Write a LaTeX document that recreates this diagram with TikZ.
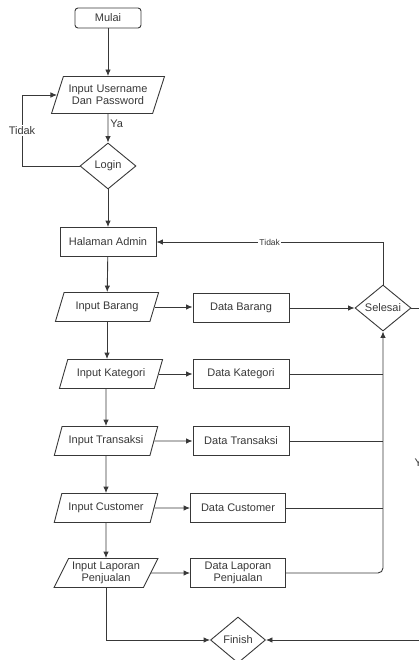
\documentclass[tikz,border=0pt]{standalone}
\usepackage{fontspec}
\setmainfont{Liberation Sans}
\usetikzlibrary{arrows,arrows.meta,shapes.geometric,positioning}

\begin{document}
\begin{tikzpicture}[x=1pt,y=-1pt, color=black!78, line width=0.9pt,
	>={Latex[length=6.5pt,width=5.5pt]},
	every node/.style={font=\fontsize{11}{12.5}\selectfont},
	proses/.style={draw, rectangle, minimum width=96pt, minimum height=29pt, inner sep=1pt, align=center},
	masukan/.style={draw, trapezium, trapezium left angle=61, trapezium right angle=119, trapezium stretches=true, minimum width=104pt, minimum height=29pt, inner sep=1pt, align=center},
	pilihan/.style={draw, diamond, aspect=1.2, inner sep=0pt, minimum width=56pt, minimum height=46pt}]
	% Keep the cut-off edges of the page
	\clip (0,0) rectangle (419,660);
	\useasboundingbox (0,0) rectangle (419,660);
	% Draw nodes
	\node[draw, rectangle, rounded corners=3pt, minimum width=66pt, minimum height=20pt] (mulai) at (108,18) {Mulai};
	\node[masukan, minimum width=113pt, minimum height=37pt, text width=84pt, inner sep=0pt] (login input) at (108,95) {Input Username\\Dan Password};
	\node[pilihan] (login) at (108,166) {Login};
	\node[proses] (admin) at (108,242) {Halaman Admin};
	\node[masukan] (in barang) at (107,307) {Input Barang};
	\node[masukan] (in kategori) at (111,374) {Input Kategori};
	\node[masukan] (in transaksi) at (106,441) {Input Transaksi};
	\node[masukan] (in customer) at (106,508) {Input Customer};
	\node[masukan] (in laporan) at (106,573) {Input Laporan\\Penjualan};
	\node[proses] (data barang) at (241,308) {Data Barang};
	\node[proses] (data kategori) at (241,374) {Data Kategori};
	\node[proses] (data transaksi) at (241,441) {Data Transaksi};
	\node[proses, minimum width=95pt] (data customer) at (238,508) {Data Customer};
	\node[proses, minimum width=95pt] (data laporan) at (238,573) {Data Laporan\\Penjualan};
	\node[pilihan] (selesai) at (383,308) {Selesai};
	\node[pilihan, minimum width=55pt] (finish) at (238,640) {Finish};
	\coordinate (keluar) at (421,308);
	% Draw arrows down the left
	\draw[->] (mulai) -- (login input);
	\draw[->] (login input) -- node[right, pos=0.35, inner sep=2pt] {Ya} (login);
	\draw[->] (login.west) -- (22,166) |- node[pos=0.25, fill=white, inner sep=1pt] {Tidak} (login input.west);
	\draw[->] (login) -- (admin);
	\draw[->] (admin) -- (in barang);
	\draw[->] (in barang.south) -- (in barang.south |- in kategori.north);
	\draw[->] (in kategori.south -| in transaksi) -- (in transaksi);
	\draw[->] (in transaksi) -- (in customer);
	\draw[->] (in customer) -- (in laporan);
	% Draw arrows to the data
	\foreach \nama in {barang, kategori, transaksi, customer, laporan}
		\draw[->] (in \nama) -- (in \nama -| data \nama.west);
	% Draw lines to Selesai
	\draw[->] (data barang) -- (selesai);
	\foreach \nama in {kategori, transaksi, customer}
		\draw (data \nama.east) -- (data \nama -| selesai);
	\draw[->, rounded corners=5pt] (data laporan.east) -| (selesai.south);
	\draw[->] (selesai.north) |- node[pos=0.75, fill=white, inner sep=1pt, font=\fontsize{8.5}{10}\selectfont] {Tidak} (admin.east);
	% Draw lines to Finish
	\draw[->] (in laporan.south) |- (finish.west);
	\draw[->] (selesai.east) -- (keluar) |- node[pos=0.233, fill=white, inner sep=1pt] {Ya} (finish.east);
\end{tikzpicture}
\end{document}
